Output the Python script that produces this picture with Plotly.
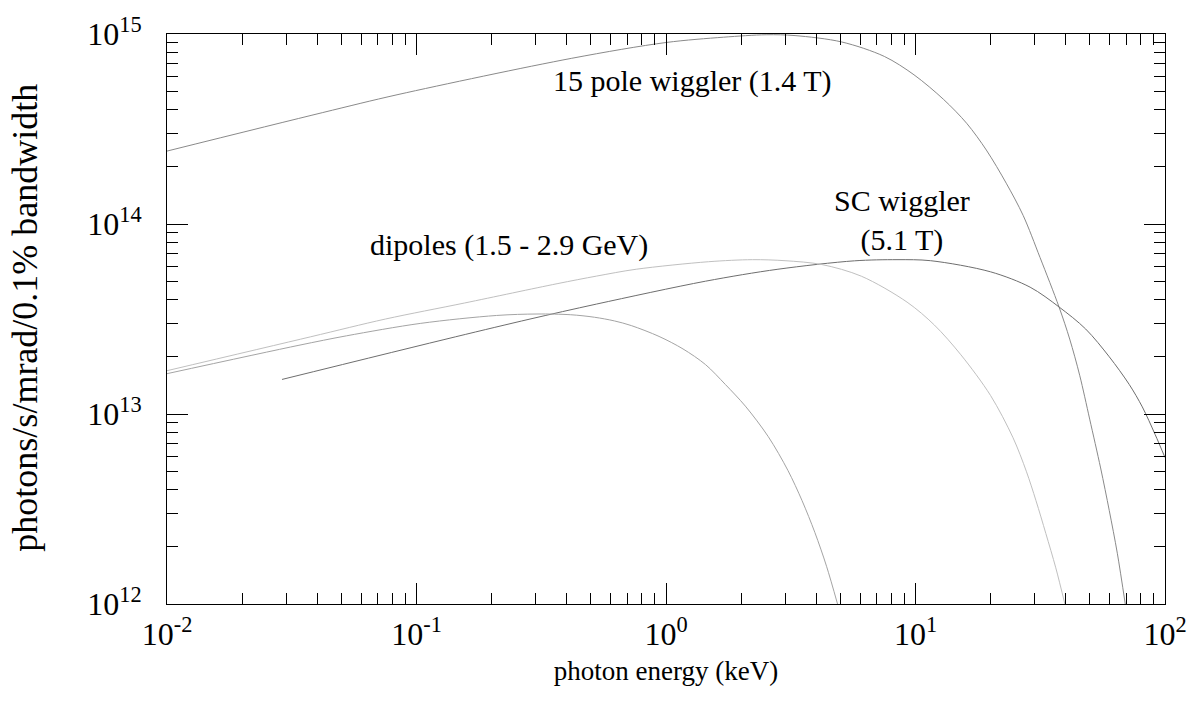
import plotly.graph_objects as go

# ---- data ----
wig_x = [0.01, 0.0421, 0.0843, 0.419, 1.0, 1.70, 2.52, 3.29, 5.06, 7.50, 9.86, 12.97, 16.03,
         19.23, 23.1, 27.0, 31.55, 37.6, 41.5, 45.5, 49.9, 55.2, 59.8, 64.4, 69.3]
wig_y = [2.42e14, 3.86e14, 4.80e14, 7.45e14, 9.02e14, 9.62e14, 9.91e14, 9.81e14, 9.08e14,
         7.62e14, 6.10e14, 4.52e14, 3.39e14, 2.45e14, 1.64e14, 1.11e14, 6.67e13, 3.66e13,
         2.48e13, 1.60e13, 9.40e12, 5.20e12, 3.10e12, 1.85e12, 1.0e12]

sc_x = [0.0289, 0.1436, 0.285, 0.527, 1.44, 2.81, 5.69, 8.43, 11.5, 20.0, 28.8, 37.6, 48.1,
        59.8, 71.9, 81.1, 91.3, 100.0]
sc_y = [1.52e13, 2.55e13, 3.16e13, 3.79e13, 5.00e13, 5.78e13, 6.40e13, 6.49e13, 6.41e13,
        5.60e13, 4.65e13, 3.66e13, 2.80e13, 2.00e13, 1.43e13, 1.09e13, 7.80e12, 5.90e12]

dip_hi_x = [0.01, 0.0377, 0.075, 0.156, 0.366, 0.527, 0.760, 1.48, 2.22, 3.00, 4.21, 6.07,
            9.25, 11.9, 15.2, 20.0, 24.6, 27.8, 30.4, 33.3, 36.5, 39.7]
dip_hi_y = [1.69e13, 2.55e13, 3.16e13, 3.84e13, 4.85e13, 5.32e13, 5.78e13, 6.33e13, 6.49e13,
            6.41e13, 6.12e13, 5.31e13, 3.88e13, 2.94e13, 2.05e13, 1.25e13, 7.50e12, 5.00e12,
            3.50e12, 2.35e12, 1.55e12, 1.0e12]

dip_lo_x = [0.01, 0.0338, 0.0525, 0.104, 0.209, 0.304, 0.415, 0.517, 0.621, 0.726, 0.938,
            1.17, 1.44, 1.73, 2.08, 2.57, 3.08, 3.51, 3.95, 4.40, 4.87]
dip_lo_y = [1.63e13, 2.30e13, 2.58e13, 3.00e13, 3.30e13, 3.36e13, 3.33e13, 3.23e13, 3.09e13,
            2.92e13, 2.56e13, 2.20e13, 1.82e13, 1.43e13, 1.10e13, 7.60e12, 5.05e12, 3.50e12,
            2.38e12, 1.58e12, 1.0e12]

x_tickvals = [0.01, 0.1, 1, 10, 100]
x_ticktext = ["10<sup>-2</sup>", "10<sup>-1</sup>", "10<sup>0</sup>", "10<sup>1</sup>", "10<sup>2</sup>"]
y_tickvals = [1e12, 1e13, 1e14, 1e15]
y_ticktext = ["10<sup>12</sup>", "10<sup>13</sup>", "10<sup>14</sup>", "10<sup>15</sup>"]

x_minor = [m * 10.0 ** e for e in range(-2, 2) for m in range(2, 10)]
y_minor = [m * 10.0 ** e for e in range(12, 15) for m in range(2, 10)]

FONT = "Liberation Serif"

fig = go.Figure()
for xs, ys, col in [(wig_x, wig_y, "#8a8a8a"), (sc_x, sc_y, "#6e6e6e"),
                    (dip_hi_x, dip_hi_y, "#c0c0c0"), (dip_lo_x, dip_lo_y, "#a4a4a4")]:
    fig.add_trace(go.Scatter(x=xs, y=ys, mode="lines",
                             line=dict(color=col, width=1, shape="spline", smoothing=0.9),
                             showlegend=False, hoverinfo="skip"))

axis_common = dict(
    showline=True, linecolor="black", linewidth=1, mirror="allticks",
    ticks="inside", ticklen=21, tickwidth=1, tickcolor="black",
    showgrid=False, zeroline=False,
    tickfont=dict(family=FONT, size=32, color="black"),
)

fig.update_xaxes(type="log", range=[-2, 2], tickmode="array", tickvals=x_tickvals, ticktext=x_ticktext,
                 minor=dict(tickmode="array", tickvals=x_minor, ticks="inside", ticklen=11,
                            tickwidth=1, tickcolor="black", showgrid=False),
                 title=dict(text="photon energy (keV)", font=dict(family=FONT, size=27, color="black"), standoff=9),
                 ticklabelstandoff=2, **axis_common)
fig.update_yaxes(type="log", range=[12, 15], tickmode="array", tickvals=y_tickvals, ticktext=y_ticktext,
                 minor=dict(tickmode="array", tickvals=y_minor, ticks="inside", ticklen=11,
                            tickwidth=1, tickcolor="black", showgrid=False),
                 ticklabelstandoff=18, **axis_common)

# y-axis title placed as rotated text
fig.add_annotation(text="photons/s/mrad/0.1% bandwidth", xref="paper", yref="paper",
                   x=-0.1425, y=0.502, textangle=-90, xanchor="center", yanchor="middle",
                   showarrow=False, font=dict(family=FONT, size=36, color="black"))

ann_font = dict(family=FONT, size=30, color="black")
fig.add_annotation(text="15 pole wiggler (1.4 T)", xref="paper", yref="paper", x=0.527, y=0.918,
                   xanchor="center", yanchor="middle", showarrow=False, font=ann_font)
fig.add_annotation(text="SC wiggler<br>(5.1 T)", xref="paper", yref="paper", x=0.736, y=0.672,
                   xanchor="center", yanchor="middle", showarrow=False, font=ann_font)
fig.add_annotation(text="dipoles (1.5 - 2.9 GeV)", xref="paper", yref="paper", x=0.343, y=0.629,
                   xanchor="center", yanchor="middle", showarrow=False, font=ann_font)

fig.update_layout(width=1199, height=708, margin=dict(l=167, r=26, t=30, b=104),
                  paper_bgcolor="white", plot_bgcolor="white", font=dict(family=FONT))

fig.write_html("out.html")
